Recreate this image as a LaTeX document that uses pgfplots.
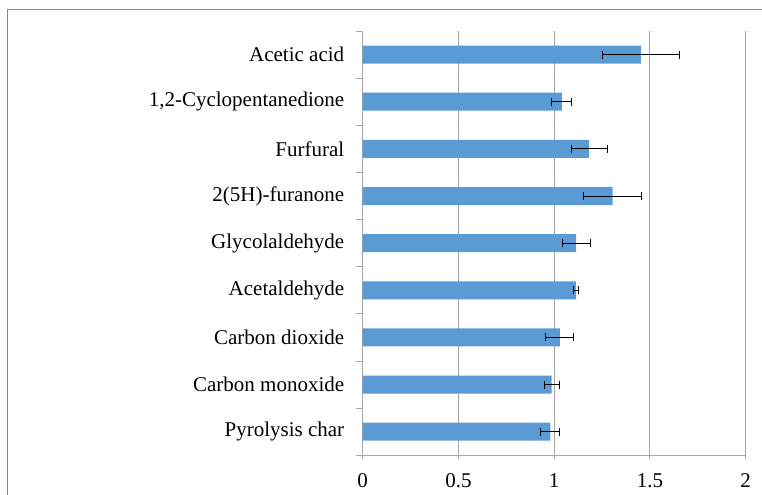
\documentclass[border=0pt]{standalone}
\usepackage{fontspec}
\setmainfont{Liberation Serif}
\usepackage{pgfplots}
\usepackage{pgfplotstable}
\pgfplotsset{compat=1.18}
\definecolor{barblue}{HTML}{5B9BD5}
\definecolor{gridgray}{HTML}{A6A6A6}
\definecolor{framegray}{HTML}{878787}

% relative yield (value, standard deviation), bottom to top
\pgfplotstableread{
idx val err
0 0.980 0.050
1 0.987 0.040
2 1.030 0.073
3 1.115 0.014
4 1.114 0.073
5 1.305 0.150
6 1.183 0.094
7 1.040 0.052
8 1.452 0.200
}\yieldtable

\begin{document}
\begin{tikzpicture}
\useasboundingbox (0,0) rectangle (762bp,495bp);
\draw[framegray, line width=1bp] (7bp,0) -- (7bp,485bp) -- (762bp,485bp);
\begin{axis}[
  at={(362.7bp,39.7bp)}, anchor=south west,
  scale only axis, width=383bp, height=424.3bp,
  xmin=0, xmax=2, ymin=-0.5, ymax=8.5,
  axis x line*=bottom, axis y line*=left,
  axis line style={gridgray, line width=1bp, -},
  tick align=outside,
  major tick length=7bp,
  xtick={0,0.5,1,1.5,2},
  xmajorgrids, major grid style={gridgray, line width=1bp},
  xtick style={gridgray, line width=1bp, /pgfplots/major tick length=4bp},
  % ticks sit on the category boundaries; names are lifted to the band centres
  ytick={-0.5,0.5,...,8.5},
  yticklabels={Pyrolysis char, Carbon monoxide, Carbon dioxide, Acetaldehyde,
    Glycolaldehyde, 2(5H)-furanone, Furfural, {1,2-Cyclopentanedione}, Acetic acid, {}},
  ytick style={gridgray, line width=1bp},
  yticklabel style={yshift=23.57bp},
  tick label style={font=\fontsize{21bp}{25bp}\selectfont, black},
  /pgf/number format/assume math mode=true,
  xticklabel shift=8bp,
  yticklabel shift=8bp,
  clip=false,
]
\addplot[xbar, fill=barblue, draw=none, bar width=18bp,
  error bars/.cd, x dir=both, x explicit, error mark=|,
  error bar style={black, line width=1bp},
  error mark options={black, line width=1bp, mark size=4bp}]
  table[x=val, y=idx, x error=err]{\yieldtable};
\end{axis}
\end{tikzpicture}
\end{document}
